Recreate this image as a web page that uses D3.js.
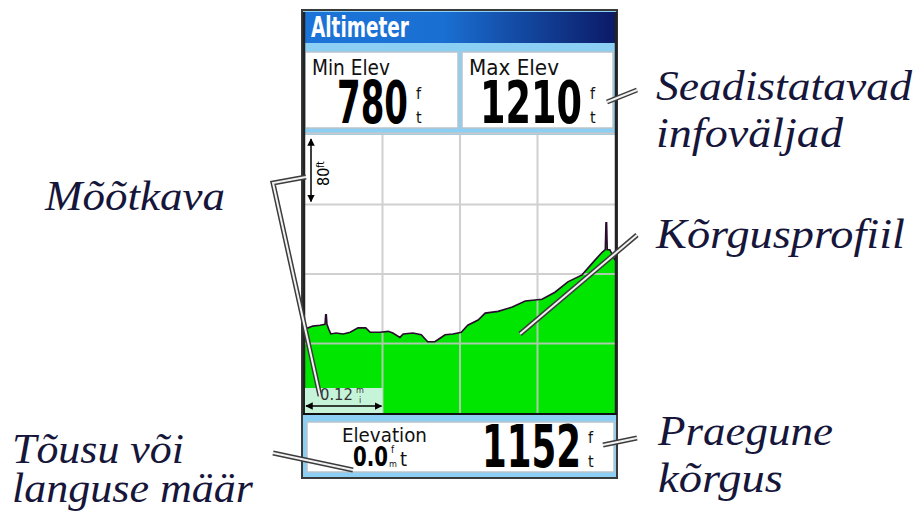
<!DOCTYPE html>
<html>
<head>
<meta charset="utf-8">
<script src="https://cdn.jsdelivr.net/npm/d3@7"></script>
<style>
  html, body { margin: 0; padding: 0; background: #fff; }
  svg { display: block; }
</style>
</head>
<body>
<svg id="chart" width="919" height="523"></svg>
<script>
// distance along track (mi) and elevation (ft)
const profileDist = [0, 0.005, 0.012, 0.023, 0.031, 0.032, 0.033, 0.034, 0.037, 0.040, 0.048, 0.059,
  0.070, 0.082, 0.094, 0.101, 0.116, 0.129, 0.136, 0.147, 0.152, 0.167, 0.180, 0.190, 0.201, 0.209,
  0.217, 0.229, 0.242, 0.252, 0.268, 0.279, 0.299, 0.321, 0.341, 0.367, 0.387, 0.407, 0.429, 0.449,
  0.460, 0.465, 0.466, 0.467, 0.468, 0.472, 0.480];
const profileElev = [1078, 1078, 1080, 1081, 1082, 1093, 1093, 1082, 1076, 1071, 1072, 1071,
  1073, 1078, 1078, 1073, 1073, 1074, 1072, 1067, 1071, 1072, 1070, 1062, 1062, 1066,
  1070, 1071, 1073, 1081, 1087, 1095, 1097, 1102, 1109, 1111, 1119, 1131, 1139, 1156,
  1165, 1168, 1199, 1199, 1168, 1168, 1156];

const distRange = [0, 0.48];      // 4 columns x 0.12 mi
const elevRange = [980, 1300];    // 4 rows x 80 ft
const gridDist = [0.12, 0.24, 0.36];
const gridElev = [1060, 1140, 1220];

const fields = [
  { label: "Min Elev", value: "780" },
  { label: "Max Elev", value: "1210" }
];
const currentElev = "1152";
const rateValue = "0.0";

const callouts = [
  { lines: ["Seadistatavad", "infoväljad"] },
  { lines: ["Kõrgusprofiil"] },
  { lines: ["Mõõtkava"] },
  { lines: ["Tõusu või", "languse määr"] },
  { lines: ["Praegune", "kõrgus"] }
];

const svg = d3.select("#chart");
const cond = "'DejaVu Sans Condensed', 'DejaVu Sans', sans-serif";
const serif = "'Liberation Serif', 'Times New Roman', Tinos, serif";
const ink = "#16163a";

// squeeze a text horizontally to a given width, around its anchor point
function fit(text, w) {
  const n = text.node().getComputedTextLength();
  const x0 = +text.attr("x"), y0 = +text.attr("y");
  text.attr("transform", `translate(${x0},${y0}) scale(${w / n},1) translate(${-x0},${-y0})`);
  return text;
}

// gradient for the title bar
const defs = svg.append("defs");
const grad = defs.append("linearGradient").attr("id", "titleGrad");
grad.append("stop").attr("offset", "0%").attr("stop-color", "#1c74d8");
grad.append("stop").attr("offset", "45%").attr("stop-color", "#1a6fd2");
grad.append("stop").attr("offset", "100%").attr("stop-color", "#0b1a66");

// Device frame
svg.append("rect").attr("x", 302).attr("y", 10).attr("width", 315).attr("height", 468)
  .attr("fill", "#8ccff5").attr("stroke", "#3a3a3a").attr("stroke-width", 2);
svg.append("rect").attr("x", 303).attr("y", 12).attr("width", 313).attr("height", 31)
  .attr("fill", "url(#titleGrad)");
fit(svg.append("text").attr("x", 311).attr("y", 37).text("Altimeter")
  .attr("font-family", cond).attr("font-weight", "bold").attr("font-size", 29)
  .attr("fill", "#fff"), 98);

// Info fields
const fieldX = [305, 462];
const fieldW = [153, 151];
const valueRight = [408, 582];
const valueW = [71, 102];
const labelW = [78, 90];
fields.forEach((f, i) => {
  const g = svg.append("g");
  g.append("rect").attr("x", fieldX[i]).attr("y", 52).attr("width", fieldW[i]).attr("height", 76)
    .attr("fill", "#fff").attr("stroke", "#b8c4cc").attr("stroke-width", 1.5);
  fit(g.append("text").attr("x", fieldX[i] + 7).attr("y", 75).text(f.label)
    .attr("font-family", cond).attr("font-size", 21).attr("fill", "#111"), labelW[i]);
  fit(g.append("text").attr("x", valueRight[i]).attr("y", 123).attr("text-anchor", "end").text(f.value)
    .attr("font-family", cond).attr("font-weight", "bold").attr("font-size", 58).attr("fill", "#000"),
    valueW[i]);
  g.append("text").attr("x", valueRight[i] + 8).attr("y", 99).text("f")
    .attr("font-family", cond).attr("font-size", 16).attr("fill", "#111");
  g.append("text").attr("x", valueRight[i] + 8).attr("y", 123).text("t")
    .attr("font-family", cond).attr("font-size", 16).attr("fill", "#111");
});

// Profile chart
const x = d3.scaleLinear().domain(distRange).range([305, 615]);
const y = d3.scaleLinear().domain(elevRange).range([413, 135]);

svg.append("line").attr("x1", 303).attr("x2", 617).attr("y1", 133.5).attr("y2", 133.5)
  .attr("stroke", "#c8c8c8").attr("stroke-width", 2);
svg.append("rect").attr("x", x(distRange[0])).attr("y", y(elevRange[1]))
  .attr("width", x(distRange[1]) - x(distRange[0])).attr("height", y(elevRange[0]) - y(elevRange[1]))
  .attr("fill", "#fff");

const points = profileDist.map((d, i) => [d, profileElev[i]]);

svg.append("path").datum(points)
  .attr("fill", "#00e600")
  .attr("d", d3.area().x(d => x(d[0])).y0(y(elevRange[0])).y1(d => y(d[1])));

const grid = svg.append("g").attr("stroke", "#c8c8c8").attr("stroke-width", 2).attr("opacity", 0.85);
grid.selectAll(".gx").data(gridDist).join("line")
  .attr("x1", d => x(d)).attr("x2", d => x(d))
  .attr("y1", y(elevRange[1])).attr("y2", y(elevRange[0]));
grid.selectAll(".gy").data(gridElev).join("line")
  .attr("x1", x(distRange[0])).attr("x2", x(distRange[1]))
  .attr("y1", d => y(d)).attr("y2", d => y(d));

svg.append("path").datum(points)
  .attr("fill", "none").attr("stroke", "#2a0c2e").attr("stroke-width", 1.6)
  .attr("d", d3.line().x(d => x(d[0])).y(d => y(d[1])));

// chart borders
svg.append("line").attr("x1", 304).attr("x2", 304).attr("y1", 12).attr("y2", 414)
  .attr("stroke", "#222").attr("stroke-width", 2.5);
svg.append("line").attr("x1", 616).attr("x2", 616).attr("y1", 12).attr("y2", 414)
  .attr("stroke", "#222").attr("stroke-width", 2.5);
svg.append("line").attr("x1", 303).attr("x2", 617).attr("y1", 414).attr("y2", 414)
  .attr("stroke", "#111").attr("stroke-width", 2);

// arrow marker
defs.append("marker").attr("id", "arr").attr("viewBox", "0 -5 10 10")
  .attr("refX", 9).attr("refY", 0).attr("markerWidth", 5).attr("markerHeight", 5)
  .attr("orient", "auto-start-reverse")
  .append("path").attr("d", "M0,-5L10,0L0,5").attr("fill", "#000");

// vertical scale: one grid row
const vsx = 311;
svg.append("line").attr("x1", vsx).attr("x2", vsx)
  .attr("y1", y(elevRange[1]) + 4).attr("y2", y(gridElev[2]) - 3)
  .attr("stroke", "#000").attr("stroke-width", 1.5)
  .attr("marker-start", "url(#arr)").attr("marker-end", "url(#arr)");
const vlab = svg.append("text")
  .attr("transform", "translate(329,186) rotate(-90)")
  .attr("font-family", cond).attr("font-size", 16).attr("fill", "#000");
vlab.append("tspan").text("80");
vlab.append("tspan").attr("font-size", 10).attr("dy", -5).text("ft");

// horizontal scale: one grid column
svg.append("rect").attr("x", x(distRange[0])).attr("y", 388)
  .attr("width", x(gridDist[0]) - x(distRange[0])).attr("height", 25)
  .attr("fill", "#c6f4d8");
svg.append("line").attr("x1", x(distRange[0]) + 1).attr("x2", x(gridDist[0]) - 1)
  .attr("y1", 406).attr("y2", 406)
  .attr("stroke", "#000").attr("stroke-width", 1.5)
  .attr("marker-start", "url(#arr)").attr("marker-end", "url(#arr)");
fit(svg.append("text").attr("x", 320).attr("y", 400).text("0.12")
  .attr("font-family", cond).attr("font-size", 16).attr("fill", "#333"), 33);
svg.append("text").attr("x", 356).attr("y", 393).text("m")
  .attr("font-family", cond).attr("font-size", 9).attr("fill", "#333");
svg.append("text").attr("x", 359).attr("y", 403).text("i")
  .attr("font-family", cond).attr("font-size", 9).attr("fill", "#333");

// Elevation field
svg.append("rect").attr("x", 307).attr("y", 422).attr("width", 307).attr("height", 50)
  .attr("fill", "#fff").attr("stroke", "#b8c4cc").attr("stroke-width", 1.5);
fit(svg.append("text").attr("x", 342).attr("y", 442).text("Elevation")
  .attr("font-family", cond).attr("font-size", 20).attr("fill", "#111"), 85);
fit(svg.append("text").attr("x", 353).attr("y", 466).text(rateValue)
  .attr("font-family", cond).attr("font-weight", "bold").attr("font-size", 27).attr("fill", "#000"), 35);
svg.append("text").attr("x", 391).attr("y", 453).text("f")
  .attr("font-family", cond).attr("font-size", 10).attr("fill", "#111");
svg.append("text").attr("x", 389).attr("y", 467).text("m")
  .attr("font-family", cond).attr("font-size", 9).attr("fill", "#111");
svg.append("text").attr("x", 400).attr("y", 466).text("t")
  .attr("font-family", cond).attr("font-size", 20).attr("fill", "#111");
fit(svg.append("text").attr("x", 581).attr("y", 467).attr("text-anchor", "end").text(currentElev)
  .attr("font-family", cond).attr("font-weight", "bold").attr("font-size", 58).attr("fill", "#000"), 99);
svg.append("text").attr("x", 588).attr("y", 443).text("f")
  .attr("font-family", cond).attr("font-size", 16).attr("fill", "#111");
svg.append("text").attr("x", 588).attr("y", 467).text("t")
  .attr("font-family", cond).attr("font-size", 16).attr("fill", "#111");

// Leader lines (double lines)
const leaders = [
  [[607, 102], [637, 90]],
  [[520, 334], [637, 235]],
  [[306, 177], [273, 183], [320, 396]],
  [[273, 453], [353, 470]],
  [[603, 445], [637, 438]]
];
const leaderGen = d3.line();
leaders.forEach(pts => {
  svg.append("path").attr("d", leaderGen(pts)).attr("fill", "none")
    .attr("stroke", "#3c3c3c").attr("stroke-width", 5).attr("stroke-linejoin", "miter");
  svg.append("path").attr("d", leaderGen(pts)).attr("fill", "none")
    .attr("stroke", "#f2f2f2").attr("stroke-width", 2).attr("stroke-linejoin", "miter");
});

// Callout labels
const calloutPos = [
  { x: 656, y: [100, 147], w: [256, 187] },
  { x: 656, y: [248], w: [249] },
  { x: 45, y: [210], w: [180] },
  { x: 12, y: [463, 502], w: [172, 241] },
  { x: 658, y: [445, 492], w: [175, 125] }
];
callouts.forEach((c, i) => {
  const p = calloutPos[i];
  c.lines.forEach((line, j) => {
    fit(svg.append("text").attr("x", p.x).attr("y", p.y[j]).text(line)
      .attr("font-family", serif).attr("font-style", "italic").attr("font-size", 42)
      .attr("fill", ink), p.w[j]);
  });
});
</script>
</body>
</html>
